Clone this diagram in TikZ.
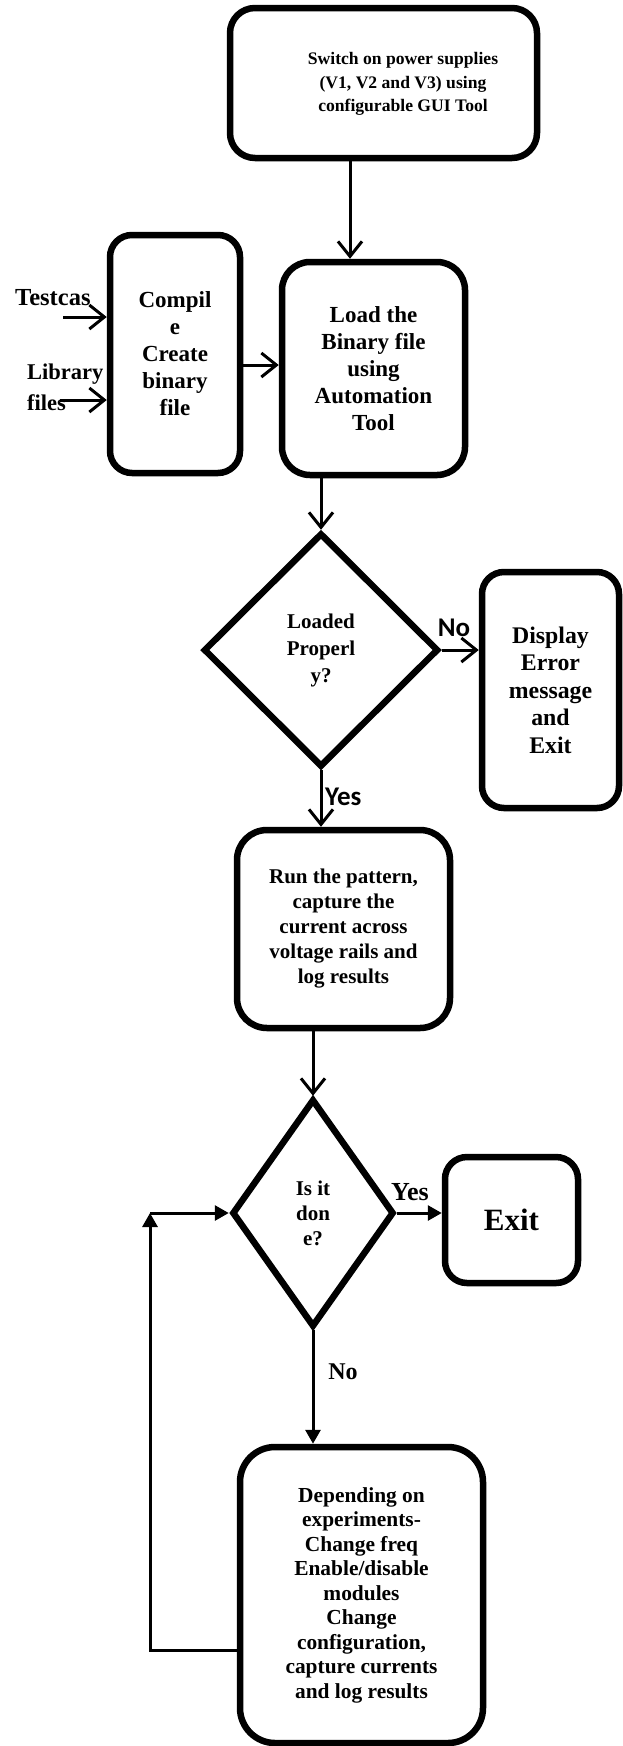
\documentclass[tikz,border=0pt]{standalone}
\usepackage{fontspec}
\setmainfont{Liberation Serif}
\newfontfamily\calib{Carlito}
\usetikzlibrary{shapes.geometric,arrows.meta,calc}
\begin{document}
\begin{tikzpicture}[x=1pt,y=-1pt,
  box/.style={draw, line width=6.5pt, rounded corners=22pt, inner sep=0pt, align=center},
  dia/.style={draw, diamond, line width=6.5pt, inner sep=0pt, align=center},
  lbl/.style={inner sep=0pt},
  barb/.style={line width=3pt, -{Straight Barb[length=15pt,width=24pt]}},
  tri/.style={line width=3pt, -{Triangle[length=14pt,width=15pt]}},
]
\useasboundingbox (0,0) rectangle (622,1746);

% boxes
\node[box, minimum width=307pt, minimum height=150pt, rounded corners=25pt] (top) at (383.5,83) {};
\node[lbl, align=center, font=\fontsize{17.6}{23.5}\selectfont\bfseries] (toptext) at (403,84)
  {Switch on power supplies\\(V1, V2 and V3) using\\configurable GUI Tool};

\node[box, minimum width=130pt, minimum height=238pt, font=\fontsize{23}{27}\selectfont\bfseries] (compile) at (175,354)
  {Compil\\e\\Create\\binary\\file};

\node[box, minimum width=183pt, minimum height=213pt, rounded corners=28pt, font=\fontsize{23}{27}\selectfont\bfseries] (load) at (373.5,368.5)
  {Load the\\Binary file\\using\\Automation\\Tool};

\node[dia, minimum width=235pt, minimum height=234pt, font=\fontsize{21}{27}\selectfont\bfseries] (d1) at (321,650)
  {Loaded\\Properl\\y?};

\node[box, minimum width=137pt, minimum height=236pt, font=\fontsize{23.8}{27.5}\selectfont\bfseries] (display) at (550.5,690)
  {Display\\Error\\message\\and\\Exit};

\node[box, minimum width=213pt, minimum height=198pt, rounded corners=30pt, font=\fontsize{21}{25}\selectfont\bfseries] (run) at (343.5,929)
  {Run the pattern,\\capture the\\current across\\voltage rails and\\log results};

\node[dia, minimum width=162pt, minimum height=228pt, font=\fontsize{21}{25}\selectfont\bfseries] (d2) at (313,1213)
  {Is it\\don\\e?};

\node[box, minimum width=133pt, minimum height=126pt, font=\fontsize{31}{31}\selectfont\bfseries] (exit) at (511.5,1220)
  {Exit};

\node[box, minimum width=243pt, minimum height=296pt, rounded corners=35pt, font=\fontsize{21.4}{24.5}\selectfont\bfseries] (dep) at (361.5,1595)
  {Depending on\\experiments-\\Change freq\\Enable/disable\\modules\\Change\\configuration,\\capture currents\\and log results};

% labels
\node[lbl, anchor=base west, font=\fontsize{24.5}{27}\selectfont\bfseries] (testcas) at (15,305) {Testcas};
\node[lbl, anchor=base west, font=\fontsize{22.5}{27}\selectfont\bfseries] (library) at (27,379) {Library};
\node[lbl, anchor=base west, font=\fontsize{22.5}{27}\selectfont\bfseries] (files) at (27,410) {files};
\node[lbl, font=\fontsize{27}{27}\selectfont\calib\bfseries] (no1) at (454,628) {No};
\node[lbl, anchor=west, font=\fontsize{27}{27}\selectfont\calib\bfseries] (yes1) at (325,797) {Yes};
\node[lbl, font=\fontsize{26}{26}\selectfont\bfseries] (yes2) at (410,1192) {Yes};
\node[lbl, font=\fontsize{24}{24}\selectfont\bfseries] (no2) at (343,1372) {No};

% connectors
\coordinate (c1) at (350,0);
\draw[barb] (top.south -| c1) -- (load.north -| c1);
\coordinate (tin) at (63,317);
\draw[barb] (tin) -- (compile.west |- tin);
\coordinate (lin) at (60,400);
\draw[barb] (lin) -- (compile.west |- lin);
\coordinate (c2) at (0,365);
\draw[barb] (compile.east |- c2) -- (load.west |- c2);
\draw[barb] (load.south -| d1.north) -- (d1.north);
\draw[barb] (d1.east) -- (display.west |- d1.east);
\draw[barb] (d1.south) -- (run.north -| d1.south);
\draw[barb] (run.south -| d2.north) -- (d2.north);
\draw[tri] (d2.east) -- (exit.west |- d2.east);
\draw[tri] (d2.south) -- (dep.north -| d2.south);
\coordinate (lp) at (150,1650);
\draw[tri] (dep.west |- lp) -- (lp) -- (lp |- d2.west);
\draw[tri] (lp |- d2.west) -- (d2.west);
\end{tikzpicture}
\end{document}
